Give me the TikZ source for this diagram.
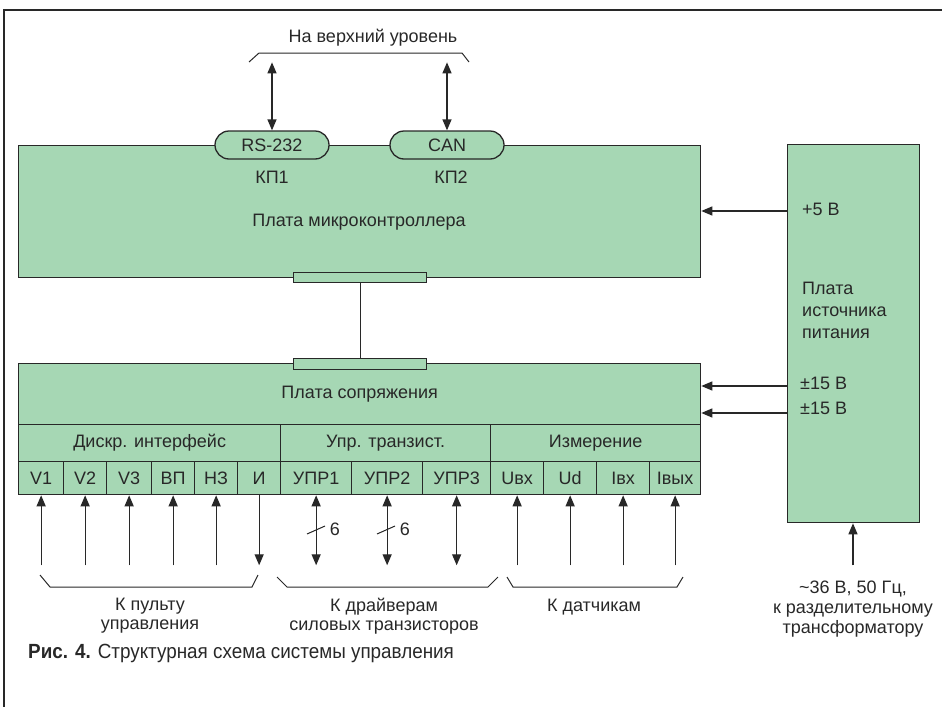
\documentclass[tikz,border=0pt]{standalone}
\usepackage{fontspec}
\setmainfont{Liberation Sans}
\newfontfamily\capfont[FakeStretch=0.92]{Liberation Sans}
\usetikzlibrary{arrows.meta,shapes.misc}
\definecolor{boardgreen}{RGB}{166,215,180}
\definecolor{ink}{RGB}{40,40,40}
\begin{document}
\begin{tikzpicture}[x=1pt,y=-1pt,
  every node/.style={font=\fontsize{18}{20}\selectfont, text=ink},
  board/.style={draw=ink, fill=boardgreen, line width=1.3pt, rectangle, inner sep=0pt, anchor=north west},
  pill/.style={draw=ink, fill=boardgreen, line width=1.3pt, rounded rectangle, inner sep=0pt, minimum width=114pt, minimum height=28pt},
  lbl/.style={inner sep=0pt},
  arr/.style={-{Triangle[length=11pt,width=9pt]}, line width=1.3pt, draw=ink},
  darr/.style={{Triangle[length=11pt,width=9pt]}-{Triangle[length=11pt,width=9pt]}, line width=1.3pt, draw=ink},
  thin/.style={line width=1pt, draw=ink},
]
\useasboundingbox (0,0) rectangle (942,707);
% frame
\draw[ink, line width=1.3pt] (942,10) -- (4,10) -- (4,707);

% microcontroller board
\node[board, minimum width=682pt, minimum height=132pt] (mcu) at (18,145) {};
\node[lbl] (mcutxt) at (359,222) {Плата микроконтроллера};
\node[pill] (rs) at (272,145) {RS-232};
\node[pill] (can) at (447,145) {CAN};
\node[lbl] (kp1) at (272,177) {КП1};
\node[lbl] (kp2) at (451,177) {КП2};

% upper level
\node[lbl] (up) at (373,38) {На верхний уровень};
\coordinate (ub1) at (249,62);
\coordinate (ub2) at (469,62);
\draw[thin] (ub1) -- (259,53) -- (462,53) -- (ub2);
\draw[darr] (rs.north) -- ++(0,-68);
\draw[darr] (can.north) -- ++(0,-68);

% interface board
\node[board, minimum width=682pt, minimum height=61pt] (ifc) at (18,363) {Плата сопряжения};
\node[board, minimum width=262pt, minimum height=37pt] (sd) at (18,424) {Дискр. интерфейс};
\node[board, minimum width=210pt, minimum height=37pt] (su) at (280,424) {Упр. транзист.};
\node[board, minimum width=210pt, minimum height=37pt] (sm) at (490,424) {Измерение};

% cells
\node[board, minimum width=45pt, minimum height=33pt] (v1) at (18,461) {V1};
\node[board, minimum width=43pt, minimum height=33pt] (v2) at (63,461) {V2};
\node[board, minimum width=45pt, minimum height=33pt] (v3) at (106,461) {V3};
\node[board, minimum width=43pt, minimum height=33pt] (vp) at (151,461) {ВП};
\node[board, minimum width=43pt, minimum height=33pt] (nz) at (194,461) {НЗ};
\node[board, minimum width=43pt, minimum height=33pt] (ii) at (237,461) {И};
\node[board, minimum width=71pt, minimum height=33pt] (u1) at (280,461) {УПР1};
\node[board, minimum width=71pt, minimum height=33pt] (u2) at (351,461) {УПР2};
\node[board, minimum width=68pt, minimum height=33pt] (u3) at (422,461) {УПР3};
\node[board, minimum width=53pt, minimum height=33pt] (m1) at (490,461) {Uвх};
\node[board, minimum width=53pt, minimum height=33pt] (m2) at (543,461) {Ud};
\node[board, minimum width=53pt, minimum height=33pt] (m3) at (596,461) {Iвх};
\node[board, minimum width=51pt, minimum height=33pt] (m4) at (649,461) {Iвых};

% connector plates
\node[board, minimum width=133pt, minimum height=10pt] (pt) at (293,272) {};
\node[board, minimum width=133pt, minimum height=11pt] (pb) at (293,358) {};
\draw[ink, line width=1.3pt] (pt.south) -- (pb.north);

% arrows from cells
\foreach \c in {v1,v2,v3,vp,nz,m1,m2,m3,m4}{
  \draw[arr] ([yshift=-70pt]\c.south) -- (\c.south);
}
\draw[arr] (ii.south) -- ++(0,70);
\draw[darr] (u1.south) -- ++(0,70);
\draw[darr] (u2.south) -- ++(0,70);
\draw[darr] (u3.south) -- ++(0,70);
\draw[thin] (307,534) -- (325,526);
\draw[thin] (377,534) -- (395,526);
\node[lbl] (n6a) at (335,529) {6};
\node[lbl] (n6b) at (405,529) {6};

% bottom braces
\draw[thin] (40,575) -- (50,587) -- (252,587) -- (258,575);
\draw[thin] (277,577) -- (287,587) -- (488,587) -- (498,577);
\draw[thin] (507,577) -- (513,587) -- (677,587) -- (683,577);
\node[lbl, align=center, font=\fontsize{18}{19}\selectfont] (kp) at (150,616) {К пульту\\управления};
\node[lbl, align=center, font=\fontsize{18}{19}\selectfont] (kd) at (384,616) {К драйверам\\силовых транзисторов};
\node[lbl] (ks) at (594,607) {К датчикам};

% power board
\node[board, minimum width=132pt, minimum height=378pt] (pwr) at (787,144) {};
\node[lbl, anchor=west] (p5) at (802,209) {+5 В};
\node[lbl, anchor=west, align=left, font=\fontsize{18}{22}\selectfont] (ptxt) at (802,310) {Плата\\источника\\питания};
\node[lbl, anchor=west] (p15a) at (800,383) {±15 В};
\node[lbl, anchor=west] (p15b) at (800,408) {±15 В};
\draw[arr] (pwr.west |- 0,211) -- (mcu.east |- 0,211);
\draw[arr] (pwr.west |- 0,386) -- (ifc.east |- 0,386);
\draw[arr] (pwr.west |- 0,413) -- (ifc.east |- 0,413);
\draw[arr] ([yshift=-42pt]pwr.south -| 853,0) -- (pwr.south -| 853,0);
\node[lbl, align=center, font=\fontsize{18}{20}\selectfont] (ac) at (853,609) {\textasciitilde36 В, 50 Гц,\\к разделительному\\трансформатору};

% caption
\node[lbl, anchor=west, font=\capfont\fontsize{20.5}{22}\selectfont] (cap) at (28,653) {\textbf{Рис. 4.} Структурная схема системы управления};
\end{tikzpicture}
\end{document}
